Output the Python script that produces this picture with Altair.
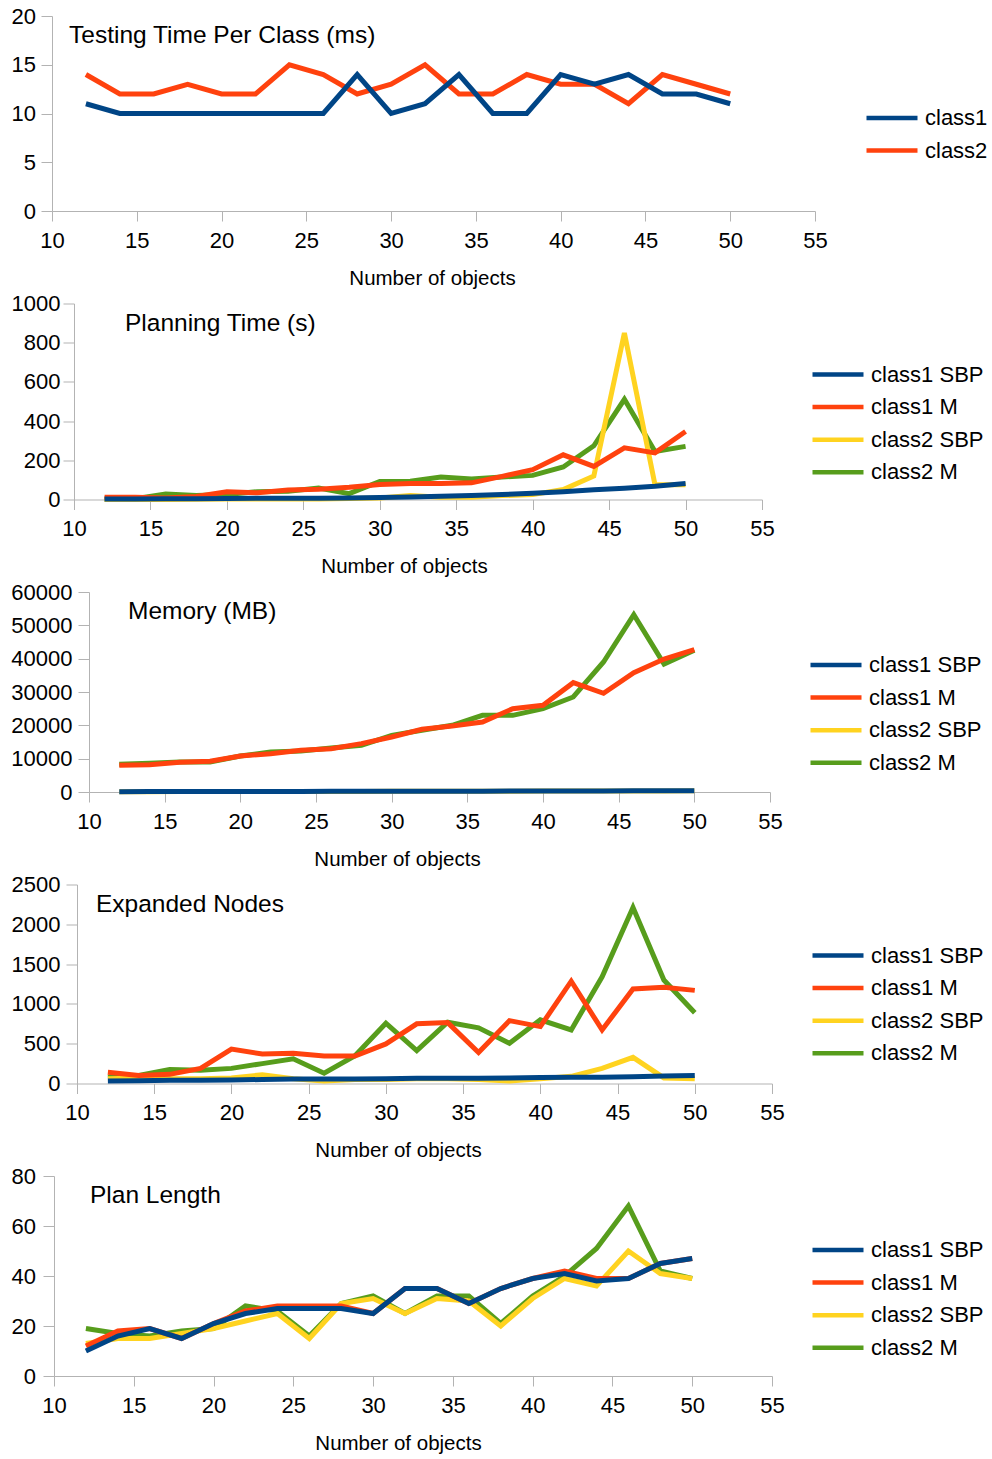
import altair as alt
import pandas as pd

FONT = "Liberation Sans"
BLUE, ORANGE, YELLOW, GREEN = "#004586", "#ff420e", "#ffd320", "#579d1c"
AXIS_GREY = "#b3b3b3"

# number of objects in each test problem
objects = [12, 14, 16, 18, 20, 22, 24, 26, 28, 30, 32, 34, 36, 38, 40, 42, 44, 46, 48, 50]
x_ticks = [10, 15, 20, 25, 30, 35, 40, 45, 50, 55]

# Testing time per class (ms)
test_class1 = [11, 10, 10, 10, 10, 10, 10, 10, 14, 10, 11, 14, 10, 10, 14, 13, 14, 12, 12, 11]
test_class2 = [14, 12, 12, 13, 12, 12, 15, 14, 12, 13, 15, 12, 12, 14, 13, 13, 11, 14, 13, 12]

# Planning time (s)
plan_c1_sbp = [3, 3, 4, 4, 5, 6, 6, 7, 8, 10, 13, 16, 20, 25, 32, 40, 50, 58, 68, 82]
plan_c1_m = [12, 12, 8, 15, 40, 34, 48, 52, 62, 76, 81, 82, 85, 118, 152, 228, 169, 264, 238, 347]
plan_c2_sbp = [0, 0, 0, 1, 2, 2, 3, 3, 5, 8, 20, 12, 12, 20, 25, 51, 120, 850, 75, 75]
plan_c2_m = [2, 4, 28, 20, 25, 40, 42, 58, 30, 92, 93, 115, 105, 115, 123, 166, 274, 511, 245, 271]

# Memory (MB)
mem_c1_sbp = [110, 120, 130, 140, 150, 160, 170, 190, 200, 210, 230, 240, 260, 270, 290, 300, 320, 340, 360, 380]
mem_c1_m = [8000, 8200, 8900, 9200, 10800, 11500, 12500, 13000, 14500, 16500,
            18800, 19800, 21000, 25000, 26000, 32800, 29600, 35800, 39900, 42700]
mem_c2_sbp = [100, 110, 120, 130, 140, 150, 160, 170, 180, 200, 210, 220, 240, 250, 270, 280, 300, 320, 330, 350]
mem_c2_m = [8300, 8600, 9000, 9000, 10800, 12000, 12300, 13200, 14000, 17000,
            18500, 20000, 23000, 23000, 25000, 28500, 39000, 53200, 38400, 42500]

# Expanded nodes
exp_c1_sbp = [30, 35, 40, 40, 45, 50, 55, 55, 55, 60, 65, 65, 65, 70, 75, 80, 80, 85, 95, 100]
exp_c1_m = [140, 100, 115, 190, 433, 370, 380, 345, 345, 497, 750, 765, 390, 790, 715, 1285, 673, 1187, 1210, 1170]
exp_c2_sbp = [60, 70, 60, 60, 70, 110, 60, 30, 50, 50, 60, 60, 50, 30, 60, 90, 190, 328, 70, 60]
exp_c2_m = [80, 100, 175, 165, 190, 250, 310, 130, 350, 758, 412, 770, 700, 505, 800, 673, 1340, 2210, 1300, 888]

# Plan length
pl_c1_sbp = [10, 16, 19, 15, 21, 25, 27, 27, 27, 25, 35, 35, 29, 35, 39, 41, 38, 39, 45, 47]
pl_c1_m = [12, 18, 19, 15, 21, 26, 28, 28, 28, 25, 35, 35, 29, 35, 39, 42, 39, 39, 45, 47]
pl_c2_sbp = [13, 15, 15, 17, 19, 22, 25, 15, 29, 31, 25, 31, 30, 20, 31, 39, 36, 50, 41, 39]
pl_c2_m = [19, 17, 16, 18, 19, 28, 26, 16, 29, 32, 25, 32, 32, 21, 32, 40, 51, 68, 42, 39]

four_names = ["class1 SBP", "class1 M", "class2 SBP", "class2 M"]
four_colors = [BLUE, ORANGE, YELLOW, GREEN]


def long_frame(names, values):
    rows = []
    for name, vals in zip(names, values):
        for x, v in zip(objects, vals):
            rows.append({"objects": x, "value": v, "series": name})
    return pd.DataFrame(rows)


def panel(title, names, values, colors, y_ticks, width, height, inset,
          label_pad, legend_x, legend_y, title_x, axis_title_x):
    """One line panel; `inset` shifts the plotting rectangle right inside its view."""
    df = long_frame(names, values)
    x = alt.X(
        "objects:Q",
        scale=alt.Scale(domain=[10, 55], nice=False, zero=False, range=[inset, inset + width]),
        axis=alt.Axis(values=x_ticks, title="Number of objects", format="d",
                      tickSize=10, labelPadding=9, titlePadding=17, titleX=axis_title_x,
                      labelFlush=False, labelOverlap=False),
    )
    y = alt.Y(
        "value:Q",
        scale=alt.Scale(domain=[y_ticks[0], y_ticks[-1]], nice=False),
        axis=alt.Axis(values=y_ticks, title=None, format="d", offset=-inset,
                      tickSize=11, labelPadding=label_pad, labelFlush=False,
                      labelOverlap=False),
    )
    color = alt.Color(
        "series:N",
        scale=alt.Scale(domain=names, range=colors),
        legend=alt.Legend(
            orient="none", legendX=inset + legend_x, legendY=legend_y, title=None,
            symbolType="M-3,0H3", symbolSize=289, symbolStrokeWidth=4.5,
            labelFontSize=22, labelFont=FONT, labelColor="black",
            labelOffset=22, rowPadding=10.6, padding=0,
        ),
    )
    # later series are drawn first so that class1 SBP ends up on top
    layers = []
    for name in reversed(names):
        layers.append(
            alt.Chart(df)
            .transform_filter(alt.datum.series == name)
            .mark_line(strokeWidth=5)
            .encode(x=x, y=y, color=color)
        )
    heading = (
        alt.Chart(pd.DataFrame({"label": [title]}))
        .mark_text(align="left", baseline="middle", font=FONT, fontSize=24.5, color="black")
        .encode(x=alt.value(inset + title_x), y=alt.value(20), text="label:N")
    )
    return alt.layer(*layers, heading).properties(width=inset + width, height=height)


p1 = panel("Testing Time Per Class (ms)", ["class1", "class2"], [test_class1, test_class2],
           [BLUE, ORANGE], [0, 5, 10, 15, 20], 763, 195, 0, 5.5, 829, 91, 17, 380)
p2 = panel("Planning Time (s)", four_names, [plan_c1_sbp, plan_c1_m, plan_c2_sbp, plan_c2_m],
           four_colors, [0, 200, 400, 600, 800, 1000], 688, 196, 22, 3, 753, 60, 51, 352)
p3 = panel("Memory (MB)", four_names, [mem_c1_sbp, mem_c1_m, mem_c2_sbp, mem_c2_m],
           four_colors, [0, 10000, 20000, 30000, 40000, 50000, 60000], 681, 200, 37, 6, 736, 62, 39, 345)
p4 = panel("Expanded Nodes", four_names, [exp_c1_sbp, exp_c1_m, exp_c2_sbp, exp_c2_m],
           four_colors, [0, 500, 1000, 1500, 2000, 2500], 695, 199, 25, 6, 750, 60, 19, 346)
p5 = panel("Plan Length", four_names, [pl_c1_sbp, pl_c1_m, pl_c2_sbp, pl_c2_m],
           four_colors, [0, 20, 40, 60, 80], 718, 200, 2, 7.5, 773, 63, 36, 346)

chart = (
    alt.vconcat(p1, p2, p3, p4, p5, spacing=3.5)
    .resolve_scale(color="independent", x="independent", y="independent")
    .resolve_legend(color="independent")
    .properties(padding={"left": 10, "top": 5, "right": 0, "bottom": 0}, background="white")
    .configure_view(stroke=None)
    .configure_axis(
        grid=False, domainColor=AXIS_GREY, tickColor=AXIS_GREY, domainWidth=1, tickWidth=1,
        labelFont=FONT, labelFontSize=22, labelColor="black",
        titleFont=FONT, titleFontSize=20.5, titleFontWeight="normal", titleColor="black",
    )
)

chart.save("out.html", embed_options={"renderer": "svg", "actions": False})
